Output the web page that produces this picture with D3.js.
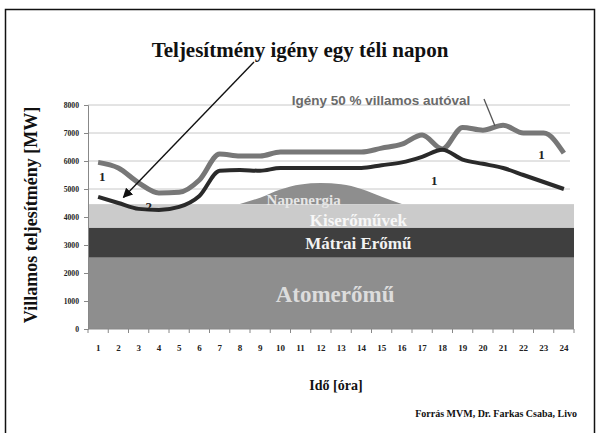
<!DOCTYPE html>
<html>
<head>
<meta charset="utf-8">
<script src="https://cdn.jsdelivr.net/npm/d3@7"></script>
<style>
  body { margin: 0; background: #fff; }
  svg { display: block; }
  svg text { font-family: "Liberation Serif", "Times New Roman", serif; font-weight: bold; }
</style>
</head>
<body>
<svg id="chart" width="600" height="433"></svg>
<script>
// hours on the x axis
var hours = d3.range(1, 25);
var yTicks = [0, 1000, 2000, 3000, 4000, 5000, 6000, 7000, 8000];

// demand without EVs (dark line) and with 50% EVs (gray line), MW
var demand = [4720, 4500, 4290, 4250, 4360, 4750, 5650, 5680, 5650, 5750, 5750, 5750,
              5750, 5750, 5850, 5950, 6150, 6400, 6050, 5900, 5750, 5500, 5250, 5000];
var demandEV = [5950, 5750, 5220, 4860, 4880, 5320, 6250, 6180, 6180, 6320, 6320, 6320,
                6320, 6320, 6460, 6600, 6930, 6430, 7200, 7100, 7280, 7000, 7000, 6280];

// base load bands (stacked, MW)
var bands = [
  { name: "Atomerőmű", value: 2550, color: "#8e8e8e", text: "#dcdcdc", size: 23, hour: 12.7, dy: 0.38 },
  { name: "Mátrai Erőmű", value: 1070, color: "#3f3f3f", text: "#f2f2f2", size: 17, hour: 13.85, dy: 0.4 },
  { name: "Kiserőművek", value: 840, color: "#cbcbcb", text: "#f7f7f7", size: 17, hour: 13.85, dy: 0.6 }
];

// solar bump on top of the bands
var solarHours = [8, 9, 10, 11, 12, 13, 14, 15, 16];
var solar = [0, 230, 520, 700, 750, 710, 540, 260, 0];

var svg = d3.select("#chart");
var margin = { left: 88, right: 574, top: 105, bottom: 329 };

var x = d3.scaleLinear().domain([0.5, 24.5]).range([margin.left, margin.right]);
var y = d3.scaleLinear().domain([0, 8000]).range([margin.bottom, margin.top]);

// grid
svg.append("g").selectAll("line")
  .data(yTicks.slice(1))
  .enter().append("line")
  .attr("x1", margin.left).attr("x2", 570)
  .attr("y1", d => y(d)).attr("y2", d => y(d))
  .attr("stroke", "#c8c8c8").attr("stroke-width", 1);

// stacked bands
var base = 0;
bands.forEach(function (b) {
  b.y0 = base;
  b.y1 = base + b.value;
  base = b.y1;
});
svg.append("g").selectAll("rect")
  .data(bands)
  .enter().append("rect")
  .attr("x", x(0.5))
  .attr("width", x(24.5) - x(0.5))
  .attr("y", d => y(d.y1))
  .attr("height", d => y(d.y0) - y(d.y1))
  .attr("fill", d => d.color);

// solar area
var bandTop = base;
var solarArea = d3.area()
  .x((d, i) => x(solarHours[i]))
  .y0(y(bandTop))
  .y1(d => y(bandTop + d))
  .curve(d3.curveMonotoneX);
svg.append("path")
  .datum(solar)
  .attr("d", solarArea)
  .attr("fill", "#8e8e8e");

svg.append("text")
  .attr("x", x(11.15)).attr("y", y(bandTop) + 0.5)
  .attr("text-anchor", "middle")
  .attr("font-size", 15)
  .attr("fill", "#e6e6e6")
  .text("Napenergia");

// band labels
svg.append("g").selectAll("text")
  .data(bands)
  .enter().append("text")
  .attr("x", d => x(d.hour))
  .attr("y", d => (y(d.y0) + y(d.y1)) / 2)
  .attr("dy", d => d.dy + "em")
  .attr("text-anchor", "middle")
  .attr("font-size", d => d.size)
  .attr("fill", d => d.text)
  .text(d => d.name);

// axes
var yAxis = d3.axisLeft(y).tickValues(yTicks).tickFormat(d3.format("d")).tickSize(4).tickPadding(6);
var gy = svg.append("g").attr("transform", `translate(${margin.left},0)`).call(yAxis);
gy.select(".domain").attr("stroke", "#888");
gy.selectAll(".tick line").attr("stroke", "#888");
gy.selectAll("text").attr("font-size", 9).attr("fill", "#222")
  .attr("transform", "scale(0.85,1)").attr("x", -9 / 0.85);

var gx = svg.append("g").attr("transform", `translate(0,${margin.bottom})`);
gx.append("line")
  .attr("x1", x(0.5)).attr("x2", x(24.5))
  .attr("stroke", "#888");
gx.selectAll(".tk")
  .data(d3.range(0.5, 25, 1))
  .enter().append("line")
  .attr("x1", d => x(d)).attr("x2", d => x(d))
  .attr("y1", 0).attr("y2", 4)
  .attr("stroke", "#888");
gx.selectAll(".lbl")
  .data(hours)
  .enter().append("text")
  .attr("x", d => x(d)).attr("y", 22)
  .attr("text-anchor", "middle")
  .attr("font-size", 9)
  .attr("fill", "#222")
  .text(d => d);

// demand lines
var line = d3.line()
  .x((d, i) => x(hours[i]))
  .y(d => y(d))
  .curve(d3.curveMonotoneX);

svg.append("path")
  .datum(demandEV)
  .attr("d", line)
  .attr("fill", "none")
  .attr("stroke", "#777")
  .attr("stroke-width", 5)
  .attr("stroke-linejoin", "round");

svg.append("path")
  .datum(demand)
  .attr("d", line)
  .attr("fill", "none")
  .attr("stroke", "#2a2a2a")
  .attr("stroke-width", 4)
  .attr("stroke-linejoin", "round");

// small curve labels
var curveLabels = [
  { t: "1", hour: 1.2, v: 5300 },
  { t: "2", hour: 3.5, v: 4200 },
  { t: "1", hour: 17.6, v: 5130 },
  { t: "1", hour: 22.9, v: 6080 }
];
svg.append("g").selectAll("text")
  .data(curveLabels)
  .enter().append("text")
  .attr("x", d => x(d.hour)).attr("y", d => y(d.v))
  .attr("text-anchor", "middle")
  .attr("font-size", 13)
  .attr("fill", "#222")
  .text(d => d.t);

// annotation: EV demand
svg.append("text")
  .attr("x", 381).attr("y", 105)
  .attr("text-anchor", "middle")
  .style("font-family", "'Liberation Sans', Arial, sans-serif")
  .attr("font-size", 13.5)
  .attr("fill", "#6a6a6a")
  .text("Igény 50 % villamos autóval");
svg.append("line")
  .attr("x1", 484).attr("y1", 99)
  .attr("x2", x(20.6)).attr("y2", y(7250))
  .attr("stroke", "#555").attr("stroke-width", 1.3);

// title and arrow
svg.append("text")
  .attr("x", 300).attr("y", 57)
  .attr("text-anchor", "middle")
  .attr("font-size", 21)
  .attr("fill", "#111")
  .text("Teljesítmény igény egy téli napon");

svg.append("defs").append("marker")
  .attr("id", "arr")
  .attr("viewBox", "0 0 10 10")
  .attr("refX", 9).attr("refY", 5)
  .attr("markerWidth", 7).attr("markerHeight", 7)
  .attr("orient", "auto")
  .append("path").attr("d", "M0,0 L10,5 L0,10 z").attr("fill", "#111");

svg.append("line")
  .attr("x1", 254).attr("y1", 62)
  .attr("x2", x(2.25)).attr("y2", y(4700))
  .attr("stroke", "#111").attr("stroke-width", 1.4)
  .attr("marker-end", "url(#arr)");

// axis titles
svg.append("text")
  .attr("transform", "translate(37,215) rotate(-90)")
  .attr("text-anchor", "middle")
  .attr("font-size", 18)
  .attr("fill", "#111")
  .text("Villamos teljesítmény [MW]");

svg.append("text")
  .attr("x", 336).attr("y", 390)
  .attr("text-anchor", "middle")
  .attr("font-size", 14)
  .attr("fill", "#111")
  .text("Idő [óra]");

svg.append("text")
  .attr("x", 577).attr("y", 417)
  .attr("text-anchor", "end")
  .attr("font-size", 10)
  .attr("fill", "#111")
  .text("Forrás MVM, Dr. Farkas Csaba, Livo");

// frame (bottom edge falls outside the picture)
svg.append("path")
  .attr("d", "M5.5,433 V9.5 H594.5 V433")
  .attr("fill", "none")
  .attr("stroke", "#111")
  .attr("stroke-width", 1.5);
</script>
</body>
</html>
